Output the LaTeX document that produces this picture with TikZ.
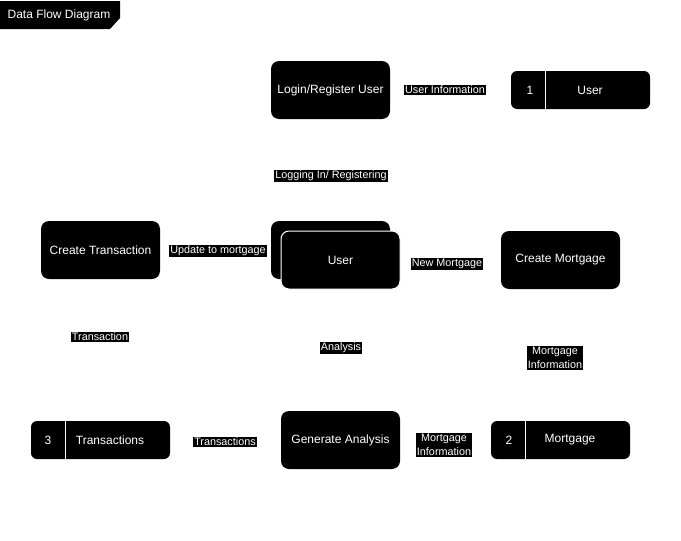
\documentclass[tikz,border=0pt]{standalone}
\usepackage{fontspec}
\setmainfont{Liberation Sans}
\begin{document}
\begin{tikzpicture}[x=1pt,y=-1pt,
 proc/.style={fill=black, rounded corners=8pt, minimum width=119pt, minimum height=58pt, text=white, font=\fontsize{12}{14}\selectfont, inner sep=0pt},
 store/.style={fill=black, rounded corners=6pt, minimum width=139pt, minimum height=38pt, inner sep=0pt},
 storetext/.style={text=white, font=\fontsize{12}{14}\selectfont, inner sep=0pt},
 divider/.style={draw=white, line width=1pt},
 lbl/.style={fill=black, text=white, font=\fontsize{10.8}{13.5}\selectfont, inner sep=1pt, align=center}]
\useasboundingbox (0,0) rectangle (681,541);

% title
\fill[black] (0,1) -- (120,1) -- (120,18) -- (110,29) -- (0,29) -- cycle;
\node[text=white, font=\fontsize{12}{14}\selectfont, inner sep=0pt] (title) at (59,15) {Data Flow Diagram};

% processes
\node[proc] (login) at (330.5,90) {Login/Register User};
\node[proc] (userback) at (330.5,250) {};
\node[proc, draw=white, line width=1pt] (user) at (340.5,260) {User};
\node[proc] (ctrans) at (100.5,250) {Create Transaction};
\node[proc] (cmort) at (560.5,260) {Create Mortgage};
\node[proc] (gen) at (340.5,440) {Generate Analysis};

% stores
\node[store] (s1) at (580.5,90) {};
\draw[divider] (545,71) -- (545,109);
\node[storetext] (s1n) at (530,90) {1};
\node[storetext] (s1t) at (590,90) {User};

\node[store] (s2) at (560.5,440) {};
\draw[divider] (525,421) -- (525,459);
\node[storetext] (s2n) at (509,440) {2};
\node[storetext] (s2t) at (570,440) {Mortgage};

\node[store] (s3) at (100.5,440) {};
\draw[divider] (65,421) -- (65,459);
\node[storetext] (s3n) at (48,440) {3};
\node[storetext] (s3t) at (110,440) {Transactions};

% labels
\node[lbl] (l1) at (445,90) {User Information};
\node[lbl] (l2) at (331,176) {Logging In/ Registering};
\node[lbl] (l3) at (218,251) {Update to mortgage};
\node[lbl] (l4) at (447,264) {New Mortgage};
\node[lbl] (l5) at (100,337) {Transaction};
\node[lbl] (l6) at (341,348) {Analysis};
\node[lbl] (l7) at (555,358) {Mortgage\\Information};
\node[lbl] (l8) at (225,442) {Transactions};
\node[lbl] (l9) at (444,445) {Mortgage\\Information};
\end{tikzpicture}
\end{document}
